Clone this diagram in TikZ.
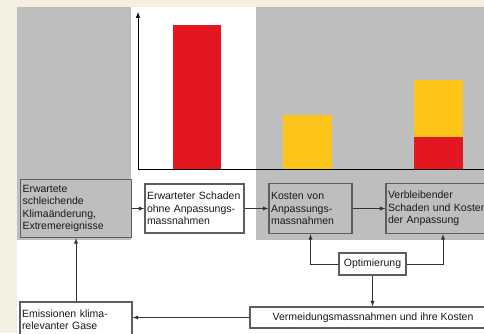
\documentclass[tikz,border=0pt]{standalone}
\usepackage{fontspec}
\setmainfont{Liberation Sans}
\definecolor{cream}{HTML}{F3F0E2}
\definecolor{panelgray}{HTML}{BEBEBE}
\definecolor{barred}{HTML}{E2171F}
\definecolor{baryellow}{HTML}{FDC51A}
\definecolor{framegray}{HTML}{5E5E5E}

\begin{document}
\begin{tikzpicture}[x=1pt,y=-1pt,
  box/.style={draw=framegray, line width=1.3pt, fill=white, inner sep=2pt,
    align=left, font=\fontsize{10.5}{12.5}\selectfont, text=black!90},
  graybox/.style={box, fill=panelgray},
  arr/.style={->,>=latex, line width=0.9pt, draw=black!80}]
  \useasboundingbox (0,0) rectangle (484,333);
  \clip (0,0) rectangle (484,333);
  \fill[cream] (0,0) rectangle (484,333);
  \fill[white] (17,7) rectangle (484,333);
  \fill[panelgray] (17,7) rectangle (131,240);
  \fill[panelgray] (256,7) rectangle (484,240);
  % bars
  \fill[barred] (173,25) rectangle (221,169);
  \fill[baryellow] (283,115) rectangle (332,169);
  \fill[baryellow] (414,80) rectangle (463,137);
  \fill[barred] (414,137) rectangle (463,169);
  % axes
  \draw[->,>=latex,line width=1pt] (138,169) -- (138,12);
  \draw[line width=1pt] (138,169) -- (484,169);

  \node[graybox, minimum height=58pt, text width=107pt] (klima) at (76,208.5)
    {Erwartete\\schleichende\\Klimaänderung,\\Extremereignisse};
  \node[box, minimum height=49pt, text width=95pt] (schaden) at (194.5,208.5)
    {Erwarteter Schaden\\ohne Anpassungs-\\massnahmen};
  \node[graybox, minimum height=50pt, text width=79pt] (kosten) at (310.5,208.5)
    {Kosten von\\Anpassungs-\\massnahmen};
  \node[graybox, minimum height=50pt, text width=110pt] (rest) at (443,208.5)
    {Verbleibender\\Schaden und Kosten\\der Anpassung};
  \node[box, align=center, minimum height=22pt, minimum width=67pt] (optim) at (372.5,264)
    {Optimierung};
  \node[box, align=center, minimum height=21pt, minimum width=246pt] (vermeidung) at (373,317.5)
    {Vermeidungsmassnahmen und ihre Kosten};
  \node[box, minimum height=35pt, text width=108pt] (emission) at (76,319.5)
    {Emissionen klima-\\relevanter Gase};

  \draw[arr] (klima) -- (schaden);
  \draw[arr] (schaden) -- (kosten);
  \draw[arr] (kosten) -- (rest);
  \draw[arr] (emission) -- (klima);
  \draw[arr] (vermeidung.west) -- (vermeidung.west -| emission.east);
  \draw[arr] (optim.west) -| (kosten.south);
  \draw[arr] (optim.east) -| (rest.south);
  \draw[arr] (optim.south) -- (optim.south |- vermeidung.north);
\end{tikzpicture}
\end{document}
